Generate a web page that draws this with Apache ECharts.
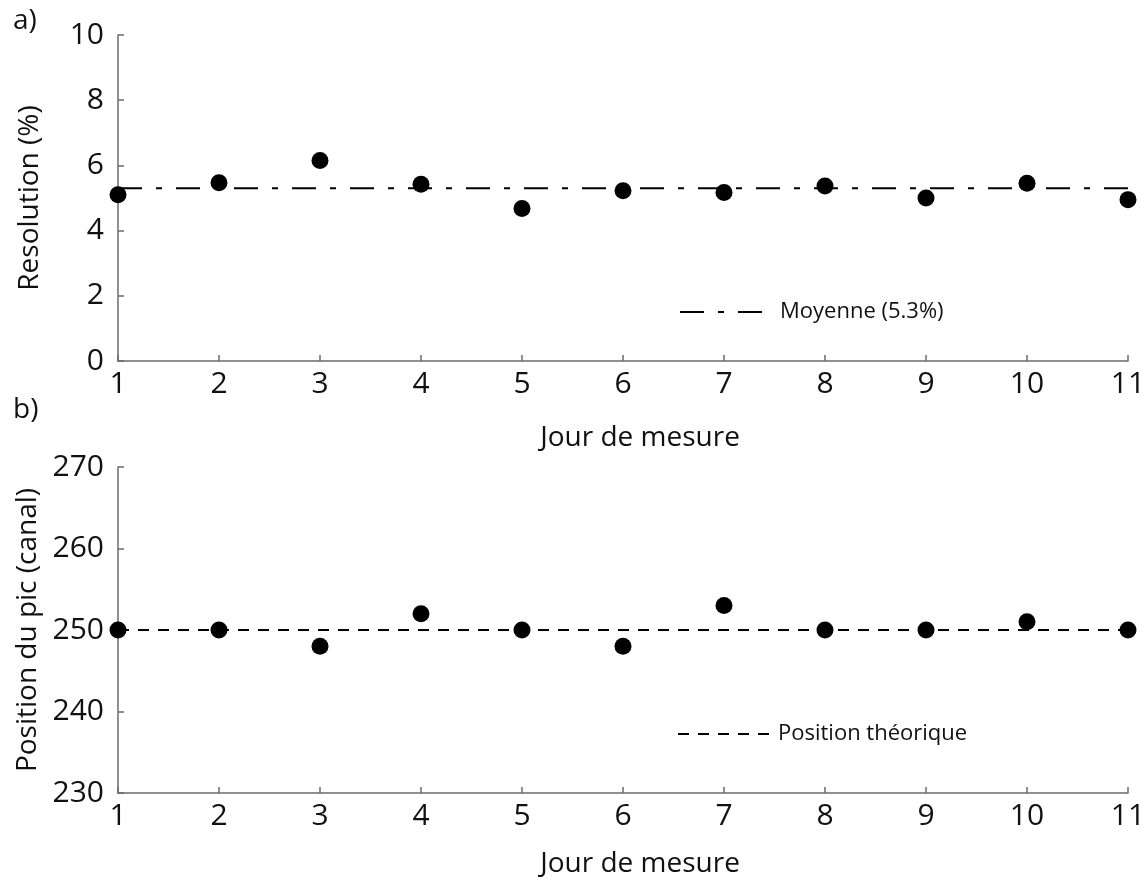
<!DOCTYPE html>
<html>
<head>
<meta charset="utf-8">
<script src="https://cdn.jsdelivr.net/npm/echarts@6/dist/echarts.min.js"></script>
<style>
html,body{margin:0;padding:0;background:#fff;}
#c{width:1141px;height:879px;}
</style>
</head>
<body>
<div id="c"></div>
<script>
const days = [1,2,3,4,5,6,7,8,9,10,11];
const resolution = [5.1,5.47,6.15,5.42,4.68,5.22,5.17,5.37,5.0,5.45,4.95];
const resolutionMean = 5.3;
const peakPosition = [250,250,248,252,250,248,253,250,250,251,250];
const theoreticalPosition = 250;
const resTicks = [0,2,4,6,8,10];
const posTicks = [230,240,250,260,270];

const FONT = '"Open Sans", "Noto Sans", sans-serif';
const axisColor = '#6b6b6b';

function xAxisCfg(gridIndex, gap) {
  return {
    type: 'value', gridIndex: gridIndex, min: 1, max: 11, interval: 1,
    name: 'Jour de mesure', nameLocation: 'middle', nameGap: gap,
    nameTextStyle: {fontFamily: FONT, fontSize: 28, color: '#111', padding: [0,0,0,34]},
    axisLine: {show: true, lineStyle: {color: axisColor, width: 1.5}},
    axisTick: {show: true, inside: true, length: 6, lineStyle: {color: axisColor, width: 1.5}},
    axisLabel: {fontFamily: FONT, fontSize: 30, color: '#111', margin: 8},
    splitLine: {show: false}
  };
}
function yAxisCfg(gridIndex, ticks, name, gap) {
  return {
    type: 'value', gridIndex: gridIndex,
    min: ticks[0], max: ticks[ticks.length-1], interval: ticks[1]-ticks[0],
    name: name, nameLocation: 'middle', nameGap: gap,
    nameTextStyle: {fontFamily: FONT, fontSize: 28, color: '#111'},
    axisLine: {show: true, lineStyle: {color: axisColor, width: 1.5}},
    axisTick: {show: true, inside: true, length: 6, lineStyle: {color: axisColor, width: 1.5}},
    axisLabel: {fontFamily: FONT, fontSize: 30, color: '#111', margin: 14},
    splitLine: {show: false}
  };
}
const legendCommon = {
  itemWidth: 95, itemHeight: 14, itemGap: 12,
  itemStyle: {color: 'rgba(0,0,0,0)', borderWidth: 0},
  textStyle: {fontFamily: FONT, fontSize: 22, color: '#111'}
};

const chart = echarts.init(document.getElementById('c'), null, {renderer: 'canvas'});
chart.setOption({
  backgroundColor: '#fff',
  animation: false,
  title: [
    {text: 'a)', left: 8, top: 2, textStyle: {fontFamily: FONT, fontSize: 28, fontWeight: 'normal', color: '#111'}},
    {text: 'b)', left: 8, top: 391, textStyle: {fontFamily: FONT, fontSize: 28, fontWeight: 'normal', color: '#111'}}
  ],
  grid: [
    {left: 118, right: 13, top: 35, height: 326, containLabel: false, outerBoundsMode: 'none'},
    {left: 118, right: 13, top: 467, height: 326, containLabel: false, outerBoundsMode: 'none'}
  ],
  xAxis: [xAxisCfg(0, 63), xAxisCfg(1, 57)],
  yAxis: [yAxisCfg(0, resTicks, 'Resolution (%)', 74), yAxisCfg(1, posTicks, 'Position du pic (canal)', 72)],
  legend: [
    Object.assign({data: ['Moyenne (5.3%)'], left: 674, top: 296}, legendCommon),
    Object.assign({data: ['Position théorique'], left: 672, top: 718}, legendCommon)
  ],
  series: [
    {
      name: 'Moyenne (5.3%)', type: 'line', xAxisIndex: 0, yAxisIndex: 0,
      data: [[days[0], resolutionMean], [days[days.length-1], resolutionMean]],
      symbol: 'none', silent: true, itemStyle: {color: '#000'},
      lineStyle: {color: '#000', width: 2, type: [24, 14, 6, 14]}, z: 1
    },
    {
      name: 'Resolution', type: 'scatter', xAxisIndex: 0, yAxisIndex: 0,
      data: days.map((d, i) => [d, resolution[i]]),
      symbol: 'circle', symbolSize: 17, itemStyle: {color: '#000', opacity: 1}, z: 3
    },
    {
      name: 'Position théorique', type: 'line', xAxisIndex: 1, yAxisIndex: 1,
      data: [[days[0], theoreticalPosition], [days[days.length-1], theoreticalPosition]],
      symbol: 'none', silent: true, itemStyle: {color: '#000'},
      lineStyle: {color: '#000', width: 2, type: [11, 9]}, z: 1
    },
    {
      name: 'Position', type: 'scatter', xAxisIndex: 1, yAxisIndex: 1,
      data: days.map((d, i) => [d, peakPosition[i]]),
      symbol: 'circle', symbolSize: 17, itemStyle: {color: '#000', opacity: 1}, z: 3
    }
  ]
});
</script>
</body>
</html>
